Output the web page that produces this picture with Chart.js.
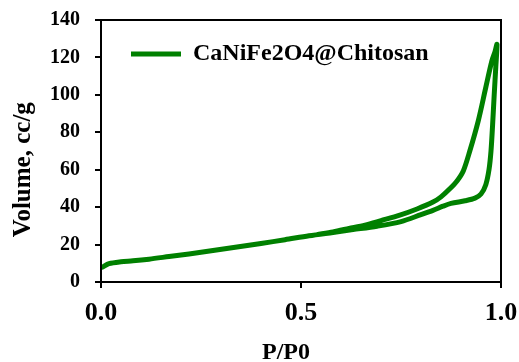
<!DOCTYPE html>
<html>
<head>
<meta charset="utf-8">
<script src="https://cdn.jsdelivr.net/npm/chart.js@4"></script>
<style>
  html, body { margin: 0; padding: 0; background: #fff; }
  #wrap { width: 519px; height: 362px; }
</style>
</head>
<body>
<div id="wrap"><canvas id="chart" width="519" height="362"></canvas></div>
<script>
// adsorption branch (lower), P/P0 and volume
const adsP = [0.004, 0.02, 0.05, 0.08, 0.12, 0.17, 0.22, 0.28, 0.34, 0.40, 0.46, 0.52, 0.58, 0.63, 0.69, 0.75, 0.80, 0.83, 0.855, 0.875, 0.91, 0.935, 0.95, 0.962, 0.970, 0.975, 0.979, 0.983, 0.987, 0.990];
const adsV = [8, 9.8, 10.8, 11.3, 12.2, 13.6, 15, 16.8, 18.7, 20.6, 22.6, 24.7, 26.5, 28, 29.8, 32.3, 36, 38.3, 40.5, 42, 43.4, 44.8, 47, 52, 60, 70, 84, 100, 115, 127];
// desorption branch (upper), from the top back down
const desP = [0.985, 0.977, 0.962, 0.943, 0.922, 0.906, 0.89, 0.872, 0.85, 0.83, 0.79, 0.747, 0.70, 0.66, 0.62, 0.58, 0.54];
const desV = [123, 118, 104, 86, 70, 59.5, 54, 49.8, 45.5, 42.7, 39, 35.7, 32.8, 30.4, 28.6, 26.8, 25.3];

const seriesName = "CaNiFe2O4@Chitosan";
const xTicks = [0, 0.5, 1];
const yTicks = [0, 20, 40, 60, 80, 100, 120, 140];

const points = [];
adsP.forEach((p, i) => points.push({ x: p, y: adsV[i] }));
desP.forEach((p, i) => points.push({ x: p, y: desV[i] }));

const green = "#008000";
const serif = "'Liberation Serif', 'Times New Roman', serif";

// box around the plot area
const frame = {
    id: "frame",
    afterDraw(chart) {
        const a = chart.chartArea;
        const ctx = chart.ctx;
        ctx.save();
        ctx.strokeStyle = "#000";
        ctx.lineWidth = 2;
        ctx.strokeRect(a.left, a.top, a.right - a.left, a.bottom - a.top);
        ctx.restore();
    }
};

new Chart(document.getElementById("chart").getContext("2d"), {
    type: "scatter",
    data: {
        datasets: [{
            label: seriesName,
            data: points,
            showLine: true,
            borderColor: green,
            backgroundColor: green,
            borderWidth: 5,
            pointRadius: 0,
            pointStyle: "line",
            tension: 0.3,
            borderCapStyle: "round",
            borderJoinStyle: "round"
        }]
    },
    options: {
        responsive: false,
        animation: false,
        layout: { padding: { left: 0, right: 18, top: 20, bottom: 0 } },
        plugins: {
            legend: {
                position: "chartArea",
                align: "start",
                title: { display: true, text: "", padding: { top: 2, bottom: 0 }, font: { size: 10, lineHeight: 1 } },
                labels: {
                    usePointStyle: true,
                    pointStyleWidth: 50,
                    padding: 30,
                    color: "#000",
                    font: { family: serif, size: 24, weight: "bold" }
                }
            },
            tooltip: { enabled: false }
        },
        scales: {
            x: {
                type: "linear",
                min: 0,
                max: 1,
                afterBuildTicks: (s) => { s.ticks = xTicks.map((v) => ({ value: v })); },
                afterFit: (s) => { s.height = 80; s.paddingLeft = 0; s.paddingRight = 0; },
                grid: { drawOnChartArea: false, tickLength: 6, color: "#000", lineWidth: 2 },
                border: { color: "#000", width: 2 },
                ticks: {
                    padding: 10,
                    color: "#000",
                    font: { family: serif, size: 26, weight: "bold" },
                    callback: (v) => Number(v).toFixed(1)
                },
                title: {
                    display: true,
                    text: "P/P0     ",
                    color: "#000",
                    padding: 0,
                    font: { family: serif, size: 24, weight: "bold", lineHeight: 0.8 }
                }
            },
            y: {
                min: 0,
                max: 140,
                afterBuildTicks: (s) => { s.ticks = yTicks.map((v) => ({ value: v })); },
                afterFit: (s) => { s.width = 101; s.paddingTop = 0; s.paddingBottom = 0; },
                grid: { drawOnChartArea: false, tickLength: 6, color: "#000", lineWidth: 2 },
                border: { color: "#000", width: 2 },
                ticks: {
                    padding: 15,
                    color: "#000",
                    font: { family: serif, size: 20, weight: "bold" }
                },
                title: {
                    display: true,
                    text: "Volume, cc/g      ",
                    color: "#000",
                    padding: { top: 9, bottom: 0 },
                    font: { family: serif, size: 25, weight: "bold" }
                }
            }
        }
    },
    plugins: [frame]
});
</script>
</body>
</html>
